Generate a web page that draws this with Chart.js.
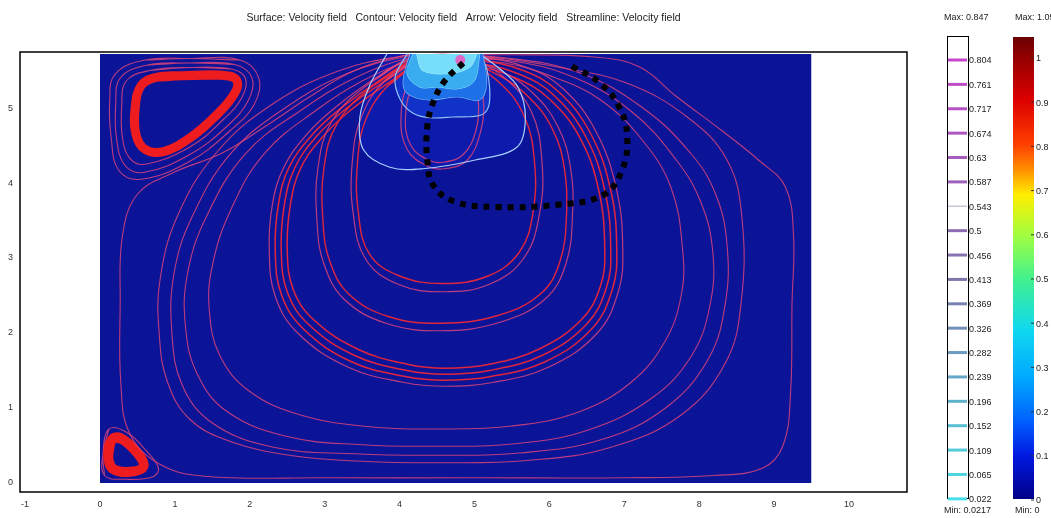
<!DOCTYPE html>
<html>
<head>
<meta charset="utf-8">
<script src="https://cdn.jsdelivr.net/npm/chart.js@4/dist/chart.umd.min.js"></script>
<style>
html,body{margin:0;padding:0;background:#fff;}
canvas{display:block;}
</style>
</head>
<body>
<canvas id="c" width="1051" height="518"></canvas>
<script>
// ---------- axis ticks ----------
const xTicks = [-1,0,1,2,3,4,5,6,7,8,9,10];
const yTicks = [0,1,2,3,4,5];

// ---------- colour-bar labels ----------
const contourLevels = ['0.804','0.761','0.717','0.674','0.63','0.587','0.543','0.5','0.456','0.413','0.369','0.326','0.282','0.239','0.196','0.152','0.109','0.065','0.022'];
const surfaceTicks = ['1','0.9','0.8','0.7','0.6','0.5','0.4','0.3','0.2','0.1','0'];
const contourMax = 'Max: 0.847', contourMin = 'Min: 0.0217';
const surfaceMax = 'Max: 1.05', surfaceMin = 'Min: 0';
const titleText = 'Surface: Velocity field   Contour: Velocity field   Arrow: Velocity field   Streamline: Velocity field';

// ---------- domain (surface) ----------
const domainTop = [[0,5.72],[9.5,5.72]];

// ---------- velocity contours near the inlet (open at the top wall) ----------
const contour1 = [[3.83,5.72],[3.6,5.3],[3.47,4.88],[3.52,4.44],[3.87,4.21],[4.31,4.19],[4.98,4.3],[5.57,4.48],[5.68,4.88],[5.58,5.28],[5.34,5.52],[5.07,5.72]];
const contour2 = [[4.1,5.72],[3.94,5.41],[4.01,5.11],[4.18,4.93],[4.41,4.87],[4.71,4.88],[5.1,4.91],[5.2,5.07],[5.17,5.5],[5.07,5.72]];
const contour3 = [[4.14,5.72],[4.05,5.37],[4.1,5.2],[4.37,5.11],[4.77,5.15],[5.07,5.11],[5.16,5.33],[5.11,5.72]];
const contour4 = [[4.18,5.72],[4.1,5.46],[4.27,5.28],[4.5,5.28],[4.8,5.26],[5.0,5.37],[5.07,5.72]];
const contour5 = [[4.23,5.72],[4.31,5.5],[4.67,5.46],[4.94,5.55],[5.03,5.72]];
const inletSpot = [[4.81,5.64]];

// ---------- streamlines: main vortex (closed loops) ----------
const streamA1 = [[4.45,5.6],[4.2,5.35],[4.08,4.9],[4.15,4.5],[4.4,4.3],[4.6,4.28],[4.85,4.38],[5.02,4.7],[5.05,5.1],[4.95,5.45],[4.7,5.62]];
const streamA2 = [[4.42,5.64],[4.14,5.38],[4.02,4.9],[4.1,4.45],[4.38,4.22],[4.6,4.19],[4.9,4.3],[5.08,4.68],[5.12,5.1],[5.0,5.48],[4.72,5.66]];
const streamB1 = [[4.3,5.6],[3.85,5.3],[3.55,4.85],[3.44,4.3],[3.45,3.6],[3.6,3.05],[4.0,2.76],[4.58,2.66],[5.18,2.76],[5.6,3.08],[5.78,3.6],[5.8,4.3],[5.66,4.9],[5.32,5.35],[4.9,5.58]];
const streamB2 = [[4.28,5.64],[3.8,5.36],[3.49,4.88],[3.37,4.3],[3.38,3.6],[3.55,2.98],[3.98,2.65],[4.58,2.55],[5.2,2.65],[5.66,3.0],[5.87,3.6],[5.9,4.3],[5.76,4.95],[5.38,5.42],[4.92,5.64]];
const streamC1 = [[4.22,5.62],[3.65,5.3],[3.17,4.8],[2.99,4.2],[2.98,3.45],[3.07,2.95],[3.32,2.52],[3.85,2.22],[4.55,2.13],[5.3,2.23],[5.88,2.52],[6.14,2.95],[6.23,3.6],[6.2,4.2],[6.05,4.7],[5.75,5.12],[5.3,5.45],[4.8,5.62]];
const streamC2 = [[4.18,5.66],[3.6,5.33],[3.1,4.83],[2.91,4.2],[2.9,3.45],[2.99,2.92],[3.26,2.45],[3.82,2.13],[4.55,2.03],[5.33,2.14],[5.94,2.45],[6.22,2.92],[6.31,3.6],[6.28,4.22],[6.12,4.74],[5.81,5.17],[5.34,5.5],[4.8,5.66]];
const streamD1 = [[4.3,5.58],[3.8,5.3],[3.32,4.95],[2.96,4.6],[2.68,4.2],[2.54,3.7],[2.5,3.1],[2.58,2.58],[2.85,2.18],[3.45,1.78],[4.12,1.58],[4.6,1.53],[5.18,1.58],[5.85,1.78],[6.43,2.18],[6.68,2.62],[6.74,3.1],[6.66,3.9],[6.41,4.6],[6.0,5.12],[5.55,5.4],[5.0,5.56]];
const streamD2 = [[4.28,5.62],[3.76,5.33],[3.27,4.98],[2.89,4.62],[2.6,4.2],[2.46,3.7],[2.42,3.1],[2.5,2.55],[2.78,2.12],[3.4,1.7],[4.1,1.5],[4.6,1.45],[5.2,1.5],[5.9,1.7],[6.5,2.12],[6.76,2.6],[6.82,3.1],[6.74,3.9],[6.48,4.63],[6.06,5.17],[5.6,5.45],[5.0,5.6]];
const streamD3 = [[4.26,5.66],[3.72,5.36],[3.22,5.0],[2.83,4.64],[2.52,4.2],[2.38,3.7],[2.34,3.1],[2.42,2.52],[2.71,2.06],[3.35,1.62],[4.08,1.42],[4.6,1.37],[5.22,1.42],[5.95,1.62],[6.57,2.06],[6.84,2.58],[6.9,3.1],[6.82,3.9],[6.55,4.66],[6.12,5.22],[5.65,5.5],[5.02,5.64]];
const streamD4 = [[4.24,5.69],[3.68,5.4],[3.17,5.03],[2.77,4.66],[2.45,4.2],[2.3,3.7],[2.26,3.1],[2.34,2.49],[2.64,2.0],[3.3,1.55],[4.06,1.34],[4.6,1.29],[5.24,1.34],[6.0,1.55],[6.64,2.0],[6.92,2.55],[6.98,3.1],[6.9,3.9],[6.62,4.69],[6.18,5.26],[5.7,5.54],[5.04,5.68]];
const streamE1 = [[4.4,5.66],[4.15,5.64],[3.5,5.36],[2.9,4.98],[2.2,4.4],[1.75,3.65],[1.5,2.9],[1.46,2.3],[1.6,1.7],[2.0,1.22],[2.7,0.9],[3.6,0.75],[4.5,0.72],[5.5,0.76],[6.4,0.95],[7.1,1.35],[7.55,1.9],[7.76,2.5],[7.78,3.1],[7.62,3.95],[7.21,4.61],[6.68,5.11],[6.14,5.38],[5.4,5.6]];
const streamE2 = [[4.4,5.68],[4.12,5.67],[3.4,5.4],[2.7,4.98],[1.95,4.4],[1.42,3.55],[1.17,2.8],[1.14,2.1],[1.3,1.45],[1.7,0.95],[2.5,0.62],[3.5,0.51],[4.5,0.49],[5.5,0.52],[6.5,0.7],[7.35,1.12],[7.9,1.7],[8.15,2.4],[8.18,3.1],[8.02,3.75],[7.7,4.3],[7.1,4.95],[6.3,5.42],[5.4,5.64]];
const streamE3 = [[4.4,5.7],[4.1,5.69],[3.3,5.46],[2.5,5.02],[1.75,4.4],[1.23,3.55],[0.99,2.8],[0.96,2.0],[1.1,1.3],[1.5,0.8],[2.3,0.48],[3.4,0.39],[4.5,0.37],[5.6,0.4],[6.7,0.58],[7.55,1.0],[8.12,1.65],[8.35,2.4],[8.37,3.2],[8.22,3.85],[7.9,4.38],[7.25,5.0],[6.4,5.47],[5.4,5.67]];
const streamE4 = [[4.4,5.71],[4.08,5.7],[3.2,5.5],[2.3,5.05],[1.55,4.4],[1.03,3.55],[0.8,2.7],[0.79,2.0],[0.9,1.35],[1.2,0.85],[1.75,0.55],[2.6,0.36],[3.5,0.29],[4.5,0.27],[5.7,0.3],[6.8,0.47],[7.75,0.9],[8.35,1.6],[8.56,2.4],[8.57,3.55],[8.37,4.31],[7.84,4.88],[7.04,5.33],[6.14,5.54],[5.2,5.68]];
const streamE5 = [[4.3,5.71],[4.05,5.7],[3.4,5.5],[2.8,5.15],[2.2,4.75],[1.63,4.4],[0.96,4.13],[0.5,3.85],[0.3,3.3],[0.27,2.4],[0.28,1.3],[0.4,0.65],[0.8,0.25],[1.4,0.09],[3.0,0.07],[5.0,0.07],[7.0,0.07],[8.2,0.1],[8.85,0.2],[9.12,0.5],[9.22,1.2],[9.24,2.4],[9.26,3.3],[9.15,3.95],[8.8,4.3],[8.3,4.7],[7.7,5.15],[7.2,5.55],[6.6,5.68],[5.5,5.71]];

// ---------- streamlines: upper-left vortex ----------
const vortexTL = [[1.1,5.43],[0.75,5.41],[0.55,5.3],[0.47,5.0],[0.48,4.65],[0.6,4.45],[0.85,4.42],[1.2,4.6],[1.55,4.9],[1.8,5.2],[1.82,5.38],[1.6,5.44]];
const vortexTL1 = [[1.2,5.54],[0.66,5.5],[0.35,5.36],[0.29,5.03],[0.3,4.6],[0.4,4.33],[0.6,4.25],[1.2,4.48],[1.65,4.85],[1.9,5.15],[1.94,5.4],[1.75,5.52]];
const vortexTL2 = [[1.2,5.6],[0.62,5.57],[0.27,5.4],[0.21,5.05],[0.22,4.6],[0.33,4.24],[0.58,4.14],[1.2,4.38],[1.7,4.76],[1.98,5.1],[2.03,5.4],[1.8,5.58]];
const vortexTL3 = [[1.2,5.66],[0.6,5.64],[0.2,5.45],[0.13,5.1],[0.15,4.6],[0.25,4.17],[0.55,4.05],[1.2,4.29],[1.74,4.7],[2.06,5.05],[2.12,5.4],[1.87,5.64]];

// ---------- streamlines: lower-left vortex ----------
const vortexBL = [[0.16,0.58],[0.11,0.37],[0.17,0.19],[0.4,0.15],[0.58,0.22],[0.5,0.4],[0.27,0.6]];
const vortexBL1 = [[0.04,0.4],[0.06,0.1],[0.35,0.05],[0.7,0.08],[0.78,0.2],[0.6,0.45],[0.35,0.68],[0.12,0.72]];

// ---------- dotted path ----------
const dottedPath = [[4.85,5.6],[4.61,5.37],[4.45,5.08],[4.37,4.75],[4.37,4.31],[4.45,3.97],[4.74,3.75],[5.3,3.68],[6.1,3.71],[6.72,3.84],[6.97,4.17],[7.04,4.61],[6.94,5.0],[6.68,5.33],[6.28,5.57]];

// ---------- build datasets ----------
const toXY = a => a.map(p => ({x:p[0], y:p[1]}));
// closed loop: wrap neighbours so the spline stays smooth where it closes
const closed = a => toXY([a[a.length-1], ...a, a[0], a[1]]);
const thin = 'rgba(232,70,120,0.8)';
const bright = 'rgba(236,38,56,0.95)';
function stream(d, color, w){ return {data: closed(d), showLine:true, borderColor:color, borderWidth:w, pointRadius:0, tension:0.4, fill:false, order:40}; }
function contourFill(d, fillCol, order){ return {data: toXY(d), showLine:true, borderWidth:0, borderColor:'rgba(0,0,0,0)', pointRadius:0, tension:0.35, fill:'shape', backgroundColor:fillCol, order:order}; }
function contourLine(d, lineCol, order){ return {data: toXY(d), showLine:true, borderColor:lineCol, borderWidth:1.2, pointRadius:0, tension:0.35, fill:false, order:order}; }

const datasets = [
  {data: toXY(domainTop), showLine:true, borderWidth:0, borderColor:'rgba(0,0,0,0)', pointRadius:0, fill:{value:0}, backgroundColor:'#0b1497', order:100},
  contourFill(contour1, 'rgb(13,26,172)', 90),
  contourFill(contour2, 'rgb(17,50,200)', 89),
  contourLine(contour1, '#a8d0ff', 35),
  contourLine(contour2, '#8cc0f8', 35),
  contourFill(contour3, 'rgb(30,112,232)', 30), contourLine(contour3, '#7fc4f4', 30),
  contourFill(contour4, 'rgb(58,172,240)', 29), contourLine(contour4, '#86dcf6', 29),
  contourFill(contour5, 'rgb(118,222,248)', 28), contourLine(contour5, '#a8eefc', 28),
  {data: toXY(inletSpot), pointRadius:5, pointBackgroundColor:'rgba(235,90,190,0.9)', pointBorderWidth:0, showLine:false, order:27},
  stream(streamA1, thin, 1.2), stream(streamA2, thin, 1.2),
  stream(streamB1, bright, 1.4), stream(streamB2, thin, 1.2),
  stream(streamC1, bright, 1.4), stream(streamC2, thin, 1.2),
  stream(streamD1, bright, 1.5), stream(streamD2, bright, 1.5), stream(streamD3, bright, 1.5), stream(streamD4, thin, 1.2),
  stream(streamE1, thin, 1.1), stream(streamE2, thin, 1.1), stream(streamE3, thin, 1.1), stream(streamE4, thin, 1.1), stream(streamE5, thin, 1.1),
  stream(vortexTL, 'rgb(238,28,30)', 9),
  stream(vortexTL1, thin, 1.1), stream(vortexTL2, thin, 1.1), stream(vortexTL3, thin, 1.1),
  stream(vortexBL, 'rgb(238,28,30)', 10),
  stream(vortexBL1, thin, 1.1),
  {data: toXY(dottedPath), showLine:true, borderColor:'#000', borderWidth:6, borderDash:[6,6], borderCapStyle:'butt', pointRadius:0, tension:0.4, fill:false, order:0}
];

// ---------- frame + colour bars ----------
const FONT = '"Liberation Sans", Arial, sans-serif';
const framePlugin = {
  id:'frame',
  afterDraw(chart){
    const ctx = chart.ctx, a = chart.chartArea;
    ctx.save();
    ctx.strokeStyle = '#000'; ctx.lineWidth = 1.5;
    ctx.strokeRect(a.left, a.top, a.right - a.left, a.bottom - a.top);

    // contour legend
    const bx = 947.5, by = 36.5, bw = 21, bh = 462;
    ctx.fillStyle = '#fff'; ctx.fillRect(bx, by, bw, bh);
    ctx.strokeStyle = '#000'; ctx.lineWidth = 1; ctx.strokeRect(bx, by, bw, bh);
    ctx.font = '9px ' + FONT; ctx.textBaseline = 'middle'; ctx.textAlign = 'left';
    const n = contourLevels.length;
    const c0 = [200,70,205], c1 = [125,120,170], c2 = [70,225,232];
    contourLevels.forEach((lab, i) => {
      const y = 60 + i * 24.38;
      const t = i / (n - 1);
      let c;
      if (t < 0.5) { const u = t / 0.5; c = c0.map((v,k)=>Math.round(v + (c1[k]-v)*u)); }
      else { const u = (t - 0.5) / 0.5; c = c1.map((v,k)=>Math.round(v + (c2[k]-v)*u)); }
      ctx.strokeStyle = (lab === '0.543') ? 'rgb(200,195,215)' : `rgb(${c[0]},${c[1]},${c[2]})`;
      ctx.lineWidth = (lab === '0.543') ? 1.5 : 3;
      ctx.beginPath(); ctx.moveTo(948, y); ctx.lineTo(967, y); ctx.stroke();
      ctx.fillStyle = '#222';
      ctx.fillText(lab, 969, y + 1);
    });
    ctx.fillText(contourMax, 944, 18);
    ctx.fillText(contourMin, 944, 511);

    // surface colour bar
    const sx = 1013, sy = 37, sw = 21, sh = 462;
    const g = ctx.createLinearGradient(0, sy, 0, sy + sh);
    [[0,'#6a0000'],[0.05,'#990000'],[0.136,'#dd0000'],[0.234,'#ff4000'],[0.288,'#ff9000'],[0.342,'#ffee00'],[0.43,'#a0ff40'],[0.526,'#40f090'],[0.634,'#10d8f0'],[0.738,'#00a8ff'],[0.831,'#0060ff'],[0.907,'#0018e0'],[1,'#000088']].forEach(s=>g.addColorStop(s[0], s[1]));
    ctx.fillStyle = g; ctx.fillRect(sx, sy, sw, sh);
    ctx.fillStyle = '#222';
    surfaceTicks.forEach((lab, i) => {
      const y = 58 + i * 44.2;
      ctx.strokeStyle = '#333'; ctx.lineWidth = 1;
      ctx.beginPath(); ctx.moveTo(sx + sw - 3, y); ctx.lineTo(sx + sw, y); ctx.stroke();
      ctx.fillText(lab, 1036, y + 1);
    });
    ctx.fillText(surfaceMax, 1015, 18);
    ctx.fillText(surfaceMin, 1015, 511);
    ctx.restore();
  }
};

new Chart(document.getElementById('c'), {
  type:'scatter',
  data:{datasets},
  options:{
    responsive:false, animation:false,
    layout:{padding:{left:0, right:144, top:0, bottom:0}},
    plugins:{
      legend:{display:false}, tooltip:{enabled:false},
      title:{display:true, fullSize:false, text:titleText, color:'#222', font:{family:FONT, size:10.5, weight:'normal', lineHeight:1.2}, padding:{top:12, bottom:27.4}}
    },
    scales:{
      x:{type:'linear', min:-1.068, max:10.775,
         afterBuildTicks(s){ s.ticks = xTicks.map(v=>({value:v})); },
         afterFit(s){ s.height = 26; },
         grid:{display:false, drawTicks:false}, border:{display:false},
         ticks:{color:'#333', padding:7, font:{family:FONT, size:9}, maxRotation:0, autoSkip:false}},
      y:{type:'linear', min:-0.12, max:5.747,
         afterBuildTicks(s){ s.ticks = yTicks.map(v=>({value:v})); },
         afterFit(s){ s.width = 20; },
         grid:{display:false, drawTicks:false}, border:{display:false},
         ticks:{color:'#333', padding:7, font:{family:FONT, size:9}, autoSkip:false}}
    }
  },
  plugins:[framePlugin]
});
</script>
</body>
</html>
